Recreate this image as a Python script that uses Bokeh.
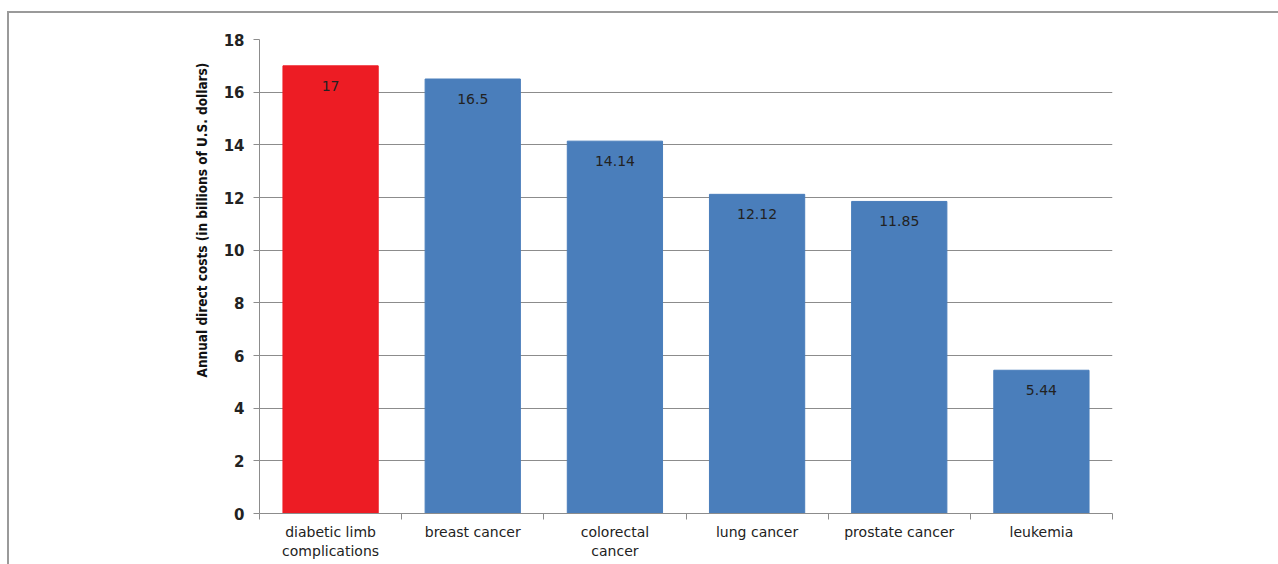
from bokeh.plotting import figure
from bokeh.layouts import column
from bokeh.models import ColumnDataSource, FixedTicker, Range1d, LabelSet, Title
from bokeh.core.properties import value
from bokeh.embed import file_html
from bokeh.resources import INLINE

categories = ["diabetic limb\ncomplications", "breast cancer", "colorectal\ncancer",
              "lung cancer", "prostate cancer", "leukemia"]
values = [17, 16.5, 14.14, 12.12, 11.85, 5.44]
value_labels = ["17", "16.5", "14.14", "12.12", "11.85", "5.44"]
colors = ["#ed1c24", "#4a7ebb", "#4a7ebb", "#4a7ebb", "#4a7ebb", "#4a7ebb"]
y_ticks = [0, 2, 4, 6, 8, 10, 12, 14, 16, 18]
y_title = "Annual direct costs (in billions of U.S. dollars)"

xpos = [i + 0.5 for i in range(len(categories))]
src = ColumnDataSource(dict(x=xpos, top=values, label=value_labels, color=colors))

OX, OY = 9, 13  # offset of the canvas inside the framed container

p = figure(width=1278 - OX, height=564 - OY, output_backend="svg", toolbar_location=None,
           x_range=Range1d(0, len(categories)), y_range=Range1d(0, 18),
           min_border_left=259 - OX, min_border_right=166, min_border_top=39 - OY,
           min_border_bottom=51)
p.outline_line_color = None
p.background_fill_color = "white"
p.border_fill_color = "white"

p.vbar(x="x", top="top", width=0.67, color="color", source=src)

labels = LabelSet(x="x", y="top", text="label", source=src, text_align="center",
                  text_baseline="middle", y_offset=-20, text_font_size="14px",
                  text_color="#222222", text_font=value("DejaVu Sans"))
p.add_layout(labels)

# grid
p.xgrid.grid_line_color = None
p.ygrid.grid_line_color = "#8c8c8c"
p.ygrid.grid_line_width = 1
p.ygrid.ticker = FixedTicker(ticks=y_ticks)

# y axis
p.yaxis.ticker = FixedTicker(ticks=y_ticks)
p.yaxis.axis_line_color = "#8c8c8c"
p.yaxis.major_tick_line_color = "#8c8c8c"
p.yaxis.major_tick_in = 0
p.yaxis.major_tick_out = 6
p.yaxis.minor_tick_line_color = None
p.yaxis.major_label_text_font = "DejaVu Sans"
p.yaxis.major_label_text_font_style = "bold"
p.yaxis.major_label_text_font_size = "15px"
p.yaxis.major_label_text_color = "#222222"
p.yaxis.major_label_standoff = 9

# y-axis title, placed (as in the original) above the axis centre
ytitle = Title(text=y_title, align="left", offset=136, standoff=21,
               text_font="'DejaVu Sans Condensed', 'Liberation Sans', sans-serif",
               text_font_style="bold", text_font_size="13.5px", text_color="#111111")
p.add_layout(ytitle, "left")

# x axis
p.xaxis.ticker = FixedTicker(ticks=xpos, minor_ticks=list(range(len(categories) + 1)))
p.xaxis.major_label_overrides = {x: c for x, c in zip(xpos, categories)}
p.xaxis.axis_line_color = "#8c8c8c"
p.xaxis.major_tick_line_color = None
p.xaxis.minor_tick_line_color = "#8c8c8c"
p.xaxis.minor_tick_in = 0
p.xaxis.minor_tick_out = 6
p.xaxis.major_label_text_font = "DejaVu Sans"
p.xaxis.major_label_text_font_size = "14px"
p.xaxis.major_label_text_color = "#222222"
p.xaxis.major_label_standoff = 4

layout = column(p, styles={"margin-left": "7px", "margin-top": "11px",
                           "border-top": "2px solid #9a9a9a",
                           "border-left": "2px solid #9a9a9a"})

open("out.html", "w").write(file_html(layout, INLINE))
